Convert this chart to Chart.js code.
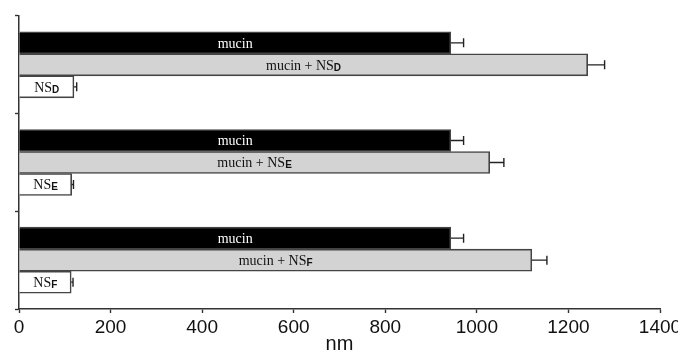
<!DOCTYPE html>
<html>
<head>
<meta charset="utf-8">
<script src="https://cdn.jsdelivr.net/npm/chart.js@4/dist/chart.umd.min.js"></script>
<style>
  body { margin: 0; background: #fff; }
</style>
</head>
<body>
<canvas id="chart" width="678" height="357"></canvas>
<script>
// nanoparticle sets (subscript letter)
const groups = ['D', 'E', 'F'];
// mean size, nm
const mucin = [943, 943, 943];
const mucinErr = [28, 28, 28];
const mixed = [1242, 1028, 1120];
const mixedErr = [37, 31, 33];
const nsOnly = [120, 115, 114];
const nsErr = [6, 4, 4];
const xTicks = [0, 200, 400, 600, 800, 1000, 1200, 1400];

const errs = [mucinErr, mixedErr, nsErr];
const barText = [
  g => ['mucin', ''],
  g => ['mucin + NS', g],
  g => ['NS', g]
];
const textColor = ['#fff', '#111', '#111'];

const axisColor = '#333';

// error bars (right side only) and in-bar labels
const barExtras = {
  id: 'barExtras',
  afterDatasetsDraw(chart) {
    const ctx = chart.ctx;
    const xs = chart.scales.x;
    ctx.save();
    chart.data.datasets.forEach((ds, i) => {
      const meta = chart.getDatasetMeta(i);
      meta.data.forEach((bar, j) => {
        const end = xs.getPixelForValue(ds.data[j] + errs[i][j]);
        ctx.strokeStyle = '#222';
        ctx.lineWidth = 1.4;
        ctx.beginPath();
        ctx.moveTo(bar.x, bar.y);
        ctx.lineTo(end, bar.y);
        ctx.moveTo(end, bar.y - 4.5);
        ctx.lineTo(end, bar.y + 4.5);
        ctx.stroke();

        const [main, sub] = barText[i](groups[j]);
        const mainFont = '14px "Liberation Serif"';
        const subFont = 'bold 10px "Liberation Sans"';
        ctx.font = mainFont;
        const w1 = ctx.measureText(main).width;
        ctx.font = subFont;
        const w2 = sub ? ctx.measureText(sub).width : 0;
        const cx = (bar.base + bar.x) / 2;
        let x0 = cx - (w1 + w2) / 2;
        ctx.fillStyle = textColor[i];
        ctx.textBaseline = 'middle';
        ctx.textAlign = 'left';
        ctx.font = mainFont;
        ctx.fillText(main, x0, bar.y + 1);
        if (sub) {
          ctx.font = subFont;
          ctx.fillText(sub, x0 + w1, bar.y + 3);
        }
      });
    });
    ctx.restore();
  }
};

new Chart(document.getElementById('chart').getContext('2d'), {
  type: 'bar',
  data: {
    labels: groups,
    datasets: [
      { data: mucin, backgroundColor: '#000', borderColor: '#444', borderWidth: 1.6 },
      { data: mixed, backgroundColor: '#d3d3d3', borderColor: '#444', borderWidth: 1.6 },
      { data: nsOnly, backgroundColor: '#fff', borderColor: '#444', borderWidth: 1.6 }
    ]
  },
  options: {
    indexAxis: 'y',
    responsive: false,
    animation: false,
    barThickness: 22,
    layout: { padding: { top: 16, right: 18, left: 0, bottom: 0 } },
    plugins: {
      legend: { display: false },
      tooltip: { enabled: false }
    },
    scales: {
      x: {
        min: 0,
        max: 1400,
        afterBuildTicks: s => { s.ticks = xTicks.map(v => ({ value: v })); },
        afterFit: s => { s.height = 48; s.paddingRight = 0; s.paddingLeft = 0; },
        ticks: {
          color: '#111',
          padding: 3,
          maxRotation: 0,
          callback: v => String(v),
          font: { family: '"Liberation Sans"', size: 19 }
        },
        grid: { drawOnChartArea: false, tickLength: 4, tickColor: axisColor, tickWidth: 1.4 },
        border: { color: axisColor, width: 1.5 },
        title: {
          display: true,
          text: 'nm',
          color: '#111',
          padding: { top: 0, bottom: 1 },
          font: { family: '"Liberation Sans"', size: 20 }
        }
      },
      y: {
        afterFit: s => { s.width = 19; },
        ticks: { display: false },
        grid: { drawOnChartArea: false, offset: true, tickLength: 4, tickColor: axisColor, tickWidth: 1.4 },
        border: { color: axisColor, width: 1.5 }
      }
    }
  },
  plugins: [barExtras]
});
</script>
</body>
</html>
